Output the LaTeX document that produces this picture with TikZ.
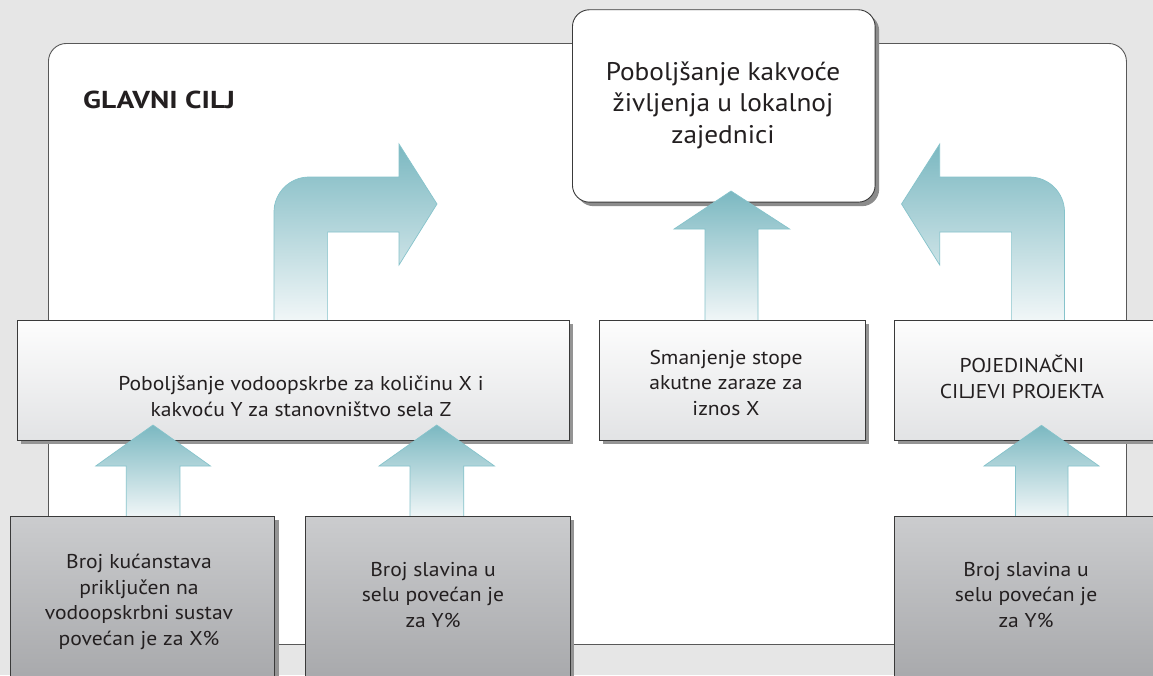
\documentclass[tikz,border=0pt]{standalone}
\usepackage{fontspec}
\setmainfont{PT Sans}
\newfontfamily\goalfont{PT Sans}[FakeStretch=1.07]
\newfontfamily\boxfont{PT Sans}[FakeStretch=1.08]
\newfontfamily\titlefont{PT Sans}[FakeStretch=1.2]
\usetikzlibrary{shadows}
\definecolor{bgc}{HTML}{E6E6E6}
\definecolor{edge}{HTML}{3A3A3A}
\definecolor{teal}{HTML}{7BB8C1}
\definecolor{tealline}{HTML}{86C3CB}
\definecolor{tealpale}{HTML}{F2F7F8}
\definecolor{lighttop}{HTML}{FDFDFD}
\definecolor{lightbot}{HTML}{E2E3E5}
\definecolor{darktop}{HTML}{CBCCCE}
\definecolor{darkbot}{HTML}{A0A1A4}
\definecolor{ink}{HTML}{231F20}
\begin{document}
\begin{tikzpicture}[x=1pt,y=-1pt,
  mainbox/.style={draw=edge!85, line width=0.9pt, fill=white, rounded corners=18pt, inner sep=0pt, anchor=north west},
  goalbox/.style={draw=edge, line width=0.9pt, fill=white, rounded corners=17pt, inner sep=0pt, anchor=north west,
     drop shadow={shadow xshift=4pt, shadow yshift=-4pt, fill=black!45, opacity=1}},
  lightbox/.style={draw=edge, line width=0.9pt, top color=lighttop, bottom color=lightbot, inner sep=0pt, anchor=north west,
     drop shadow={shadow xshift=4pt, shadow yshift=-4pt, fill=black!42, opacity=1}},
  darkbox/.style={draw=edge, line width=0.9pt, top color=darktop, bottom color=darkbot, inner sep=0pt, anchor=north west,
     drop shadow={shadow xshift=4pt, shadow yshift=-4pt, fill=black!42, opacity=1}},
  blockarrow/.style={draw=tealline, line width=0.7pt, top color=teal, bottom color=tealpale},
  bigtext/.style={font=\goalfont\fontsize{25.5}{31.5}\selectfont, text=ink, align=center, inner sep=0pt, anchor=base},
  boxtext/.style={font=\boxfont\fontsize{20}{25.5}\selectfont, text=ink, align=center, inner sep=0pt, anchor=base},
  titletext/.style={font=\titlefont\bfseries\fontsize{24.5}{28}\selectfont, text=ink, inner sep=0pt, anchor=base west}
]
\useasboundingbox (0,0) rectangle (1153,675);
\clip (0,0) rectangle (1153,675);
\fill[bgc] (0,0) rectangle (1153,675);

% main frame
\node[mainbox, minimum width=1078pt, minimum height=601pt] (main) at (48,43) {};
\node[titletext] (title) at (83,108) {GLAVNI CILJ};

% goal box
\node[goalbox, minimum width=302.7pt, minimum height=192.4pt] (goal) at (572,9.3) {};
\node[bigtext] (goaltext) at (723,143) {Poboljšanje kakvoće\\življenja u lokalnoj\\zajednici};

% bent arrows and centre arrow (behind the light boxes)
\path[blockarrow] (274,322) -- (274,212) .. controls (274,192.7) and (289.7,177) .. (309,177)
  -- (399,177) -- (399,144) -- (437,204) -- (399,265) -- (399,232) -- (327.6,232) -- (327.6,322) -- cycle;
\path[blockarrow] (1064.5,322) -- (1064.5,212) .. controls (1064.5,192.7) and (1048.8,177) .. (1029.5,177)
  -- (939.7,177) -- (939.7,144) -- (901.5,204) -- (939.7,265) -- (939.7,232) -- (1011.6,232) -- (1011.6,322) -- cycle;
\path[blockarrow] (705,322) -- (705,229) -- (674,229) -- (731,191) -- (789.6,229) -- (758,229) -- (758,322) -- cycle;

% light boxes
\node[lightbox, minimum width=552pt, minimum height=120pt] (a1) at (17,320) {};
\node[lightbox, minimum width=265.5pt, minimum height=120pt] (a2) at (599,320) {};
\node[lightbox, minimum width=300pt, minimum height=120pt] (a3) at (894,320) {};
\node[boxtext, font=\boxfont\fontsize{20}{26}\selectfont] (a1text) at (301,416) {Poboljšanje vodoopskrbe za količinu X i\\kakvoću Y za stanovništvo sela Z};
\node[boxtext] (a2text) at (726,415) {Smanjenje stope\\akutne zaraze za\\iznos X};
\node[boxtext] (a3text) at (1022,398) {POJEDINAČNI\\CILJEVI PROJEKTA};

% up arrows
\path[blockarrow] (126.3,518) -- (126.3,466) -- (95.7,466) -- (153,425) -- (210.5,466) -- (179.9,466) -- (179.9,518) -- cycle;
\path[blockarrow] (410,518) -- (410,466) -- (379,466) -- (436.7,425) -- (494.5,466) -- (463.8,466) -- (463.8,518) -- cycle;
\path[blockarrow] (1015.4,518) -- (1015.4,466) -- (984,466) -- (1041.5,425.3) -- (1099,466) -- (1068,466) -- (1068,518) -- cycle;

% dark boxes
\node[darkbox, minimum width=264.8pt, minimum height=200pt] (b1) at (9.6,515.7) {};
\node[darkbox, minimum width=265pt, minimum height=200pt] (b2) at (304.6,515.7) {};
\node[darkbox, minimum width=300pt, minimum height=200pt] (b3) at (894,515.7) {};
\node[boxtext] (b1text) at (139,645) {Broj kućanstava\\priključen na\\vodoopskrbni sustav\\povećan je za X\%};
\node[boxtext] (b2text) at (433,627) {Broj slavina u\\selu povećan je\\za Y\%};
\node[boxtext] (b3text) at (1026,627) {Broj slavina u\\selu povećan je\\za Y\%};
\end{tikzpicture}
\end{document}
